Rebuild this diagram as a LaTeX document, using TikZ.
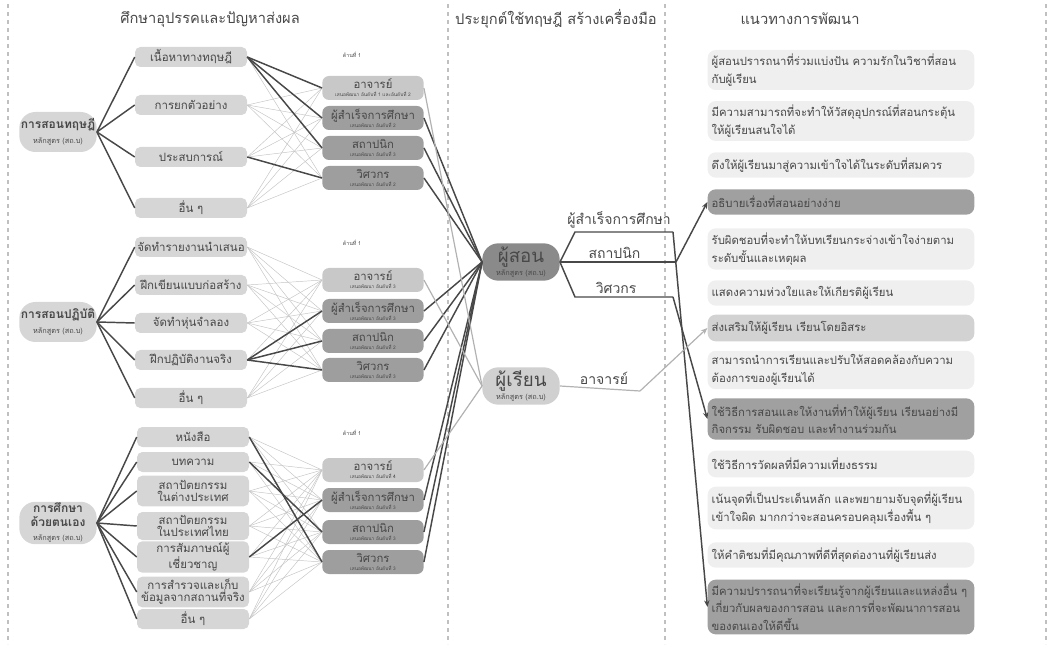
\documentclass[tikz,border=0pt]{standalone}
\usepackage{fontspec}
\setmainfont[Script=Thai]{Loma}
\usetikzlibrary{arrows.meta, positioning, calc}
\definecolor{DG}{RGB}{72,72,72}
\definecolor{LW}{RGB}{196,196,196}
\definecolor{LA}{RGB}{178,178,178}
\definecolor{PB}{RGB}{214,214,214}
\definecolor{RA}{RGB}{200,200,200}
\definecolor{RD}{RGB}{158,158,158}
\definecolor{TC}{RGB}{138,138,138}
\definecolor{TL}{RGB}{208,208,208}
\definecolor{BL}{RGB}{239,239,239}
\definecolor{BM}{RGB}{210,210,210}
\definecolor{BD}{RGB}{160,160,160}
\definecolor{SEP}{RGB}{192,192,192}
\newcommand{\rolelbl}[2]{{\fontsize{8.5}{6}\selectfont #1}\\{\fontsize{3.6}{4}\selectfont #2}}
\newcommand{\hubsub}{{\fontsize{5.5}{6}\selectfont หลักสูตร (สถ.บ)}}
\newcommand{\hubttl}[1]{{\fontsize{9}{9.5}\selectfont\bfseries #1}}

\begin{document}
\begin{tikzpicture}[
  x=0.75pt, y=-0.75pt,
  pill/.style={fill=#1, rounded corners=12pt, minimum width=58pt,
               minimum height=30pt, align=center, inner sep=1pt, text=DG},
  item/.style={fill=PB, rounded corners=4pt, minimum width=84pt,
               minimum height=15pt, align=center, inner sep=1pt,
               font=\fontsize{8.6}{9}\selectfont, text=DG},
  role/.style={fill=#1, rounded corners=5pt, minimum width=76pt,
               minimum height=18pt, align=center, inner sep=0pt, text=DG,
               font=\fontsize{8.5}{6}\selectfont},
  idea/.style={fill=#1, rounded corners=6pt, minimum width=200pt,
               text width=194pt, align=left, inner xsep=3pt, inner ysep=3pt,
               font=\fontsize{8.5}{13}\selectfont, text=DG},
  hd/.style={font=\fontsize{11}{12}\selectfont, text=DG},
  tag/.style={font=\fontsize{4}{4}\selectfont, text=DG},
  tree/.style={draw=DG, line width=1.1pt},
  web/.style={draw=LW, line width=0.35pt},
  sep/.style={draw=SEP, line width=1.1pt, dashed},
  arr/.style={-{Stealth[length=5pt,width=4pt]}, line width=1.1pt, draw=DG},
  lbl/.style={font=\fontsize{10.5}{11}\selectfont, text=DG, above=-1pt}
]
\useasboundingbox (0,0) rectangle (1049,648);

% separators and headers
\foreach \xs in {8,448,665,1046}
  \draw[sep] (\xs,4) -- (\xs,644);
\node[hd] (h1) at (210,19) {ศึกษาอุปรรคและปัญหาส่งผล};
\node[hd] (h2) at (556,19) {ประยุกต์ใช้ทฤษฎี สร้างเครื่องมือ};
\node[hd] (h3) at (800,19) {แนวทางการพัฒนา};

% group 1
\node[pill=PB] (t0) at (58,132) {\hubttl{การสอนทฤษฎี}\\[-1pt]\hubsub};
\node[item] (t1) at (191,57)  {เนื้อหาทางทฤษฎี};
\node[item] (t2) at (191,105) {การยกตัวอย่าง};
\node[item] (t3) at (191,157) {ประสบการณ์};
\node[item] (t4) at (191,208) {อื่น~ๆ};
\node[tag] (d1) at (352,55) {ด้านที่ 1};
\node[role=RA] (a1) at (373,88)  {\rolelbl{อาจารย์}{เสนอพัฒนา อันดับที่ 1 และอันดับที่ 2}};
\node[role=RD] (g1) at (373,118) {\rolelbl{ผู้สำเร็จการศึกษา}{เสนอพัฒนา อันดับที่ 2}};
\node[role=RD] (s1) at (373,148) {\rolelbl{สถาปนิก}{เสนอพัฒนา อันดับที่ 3}};
\node[role=RD] (e1) at (373,178) {\rolelbl{วิศวกร}{เสนอพัฒนา อันดับที่ 2}};

% group 2
\node[pill=PB] (p0) at (58,322) {\hubttl{การสอนปฏิบัติ}\\[-1pt]\hubsub};
\node[item] (p1) at (191,247) {จัดทำรายงานนำเสนอ};
\node[item] (p2) at (191,285) {ฝึกเขียนแบบก่อสร้าง};
\node[item] (p3) at (191,323) {จัดทำหุ่นจำลอง};
\node[item] (p4) at (191,360) {ฝึกปฏิบัติงานจริง};
\node[item] (p5) at (191,398) {อื่น~ๆ};
\node[tag] (d2) at (352,243) {ด้านที่ 1};
\node[role=RA] (a2) at (373,280) {\rolelbl{อาจารย์}{เสนอพัฒนา อันดับที่ 3}};
\node[role=RD] (g2) at (373,311) {\rolelbl{ผู้สำเร็จการศึกษา}{เสนอพัฒนา อันดับที่ 3}};
\node[role=RD] (s2) at (373,341) {\rolelbl{สถาปนิก}{เสนอพัฒนา อันดับที่ 2}};
\node[role=RD] (e2) at (373,370) {\rolelbl{วิศวกร}{เสนอพัฒนา อันดับที่ 3}};

% group 3
\node[pill=PB, minimum height=31pt] (m0) at (58,523)
  {\hubttl{การศึกษา}\\[-2pt]\hubttl{ด้วยตนเอง}\\[-1pt]\hubsub};
\node[item] (m1) at (193,437) {หนังสือ};
\node[item] (m2) at (193,462) {บทความ};
\node[item, minimum height=23pt] (m3) at (193,491) {สถาปัตยกรรม\\ในต่างประเทศ};
\node[item, minimum height=21pt] (m4) at (193,526) {สถาปัตยกรรม\\ในประเทศไทย};
\node[item, minimum height=21pt] (m5) at (193,557) {การสัมภาษณ์ผู้\\เชี่ยวชาญ};
\node[item, minimum height=23pt] (m6) at (193,592) {การสำรวจและเก็บ\\ข้อมูลจากสถานที่จริง};
\node[item] (m7) at (193,619) {อื่น~ๆ};
\node[tag] (d3) at (352,433) {ด้านที่ 1};
\node[role=RA] (a3) at (373,470) {\rolelbl{อาจารย์}{เสนอพัฒนา อันดับที่ 4}};
\node[role=RD] (g3) at (373,500) {\rolelbl{ผู้สำเร็จการศึกษา}{เสนอพัฒนา อันดับที่ 3}};
\node[role=RD] (s3) at (373,532) {\rolelbl{สถาปนิก}{เสนอพัฒนา อันดับที่ 3}};
\node[role=RD] (e3) at (373,562) {\rolelbl{วิศวกร}{เสนอพัฒนา อันดับที่ 3}};

% trees
\foreach \c in {t1,t2,t3,t4} \draw[tree] (t0.east) -- (\c.west);
\foreach \c in {p1,p2,p3,p4,p5} \draw[tree] (p0.east) -- (\c.west);
\foreach \c in {m1,m2,m3,m4,m5,m6,m7} \draw[tree] (m0.east) -- (\c.west);

% web of links
\foreach \c in {t1,t2,t3,t4}
  \foreach \r in {a1,g1,s1,e1} \draw[web] (\c.east) -- (\r.west);
\foreach \c in {p1,p2,p3,p4,p5}
  \foreach \r in {a2,g2,s2,e2} \draw[web] (\c.east) -- (\r.west);
\foreach \c in {m1,m2,m3,m4,m5,m6,m7}
  \foreach \r in {a3,g3,s3,e3} \draw[web] (\c.east) -- (\r.west);
\foreach \c/\r in {t1/a1,t1/g1,t1/s1,t3/e1,p4/g2,p4/s2,p4/e2,m5/g3,m2/s3,m1/e3}
  \draw[tree] (\c.east) -- (\r.west);

% hubs
\node[pill=TC, minimum height=28pt] (ps) at (521,262)
  {{\fontsize{14}{14}\selectfont ผู้สอน}\\[-2pt]\hubsub};
\node[pill=TL, minimum height=28pt] (pl) at (521,386)
  {{\fontsize{14}{14}\selectfont ผู้เรียน}\\[-2pt]\hubsub};
\foreach \r in {g1,s1,e1,g2,s2,e2,g3,s3,e3} \draw[tree] (\r.east) -- (ps.west);
\foreach \r in {a1,a2,a3} \draw[draw=LA, line width=0.9pt] (\r.east) -- (pl.west);

% guidelines
\node[idea=BL, minimum height=30pt] (r1) at (841,70)
  {ผู้สอนปรารถนาที่ร่วมแบ่งปัน ความรักในวิชาที่สอน\\กับผู้เรียน};
\node[idea=BL, minimum height=29pt] (r2) at (841,121)
  {มีความสามารถที่จะทำให้วัสดุอุปกรณ์ที่สอนกระตุ้น\\ให้ผู้เรียนสนใจได้};
\node[idea=BL, minimum height=19pt] (r3) at (841,165)
  {ดึงให้ผู้เรียนมาสู่ความเข้าใจได้ในระดับที่สมควร};
\node[idea=BD, minimum height=19pt] (r4) at (841,202)
  {อธิบายเรื่องที่สอนอย่างง่าย};
\node[idea=BL, minimum height=31pt] (r5) at (841,249)
  {รับผิดชอบที่จะทำให้บทเรียนกระจ่างเข้าใจง่ายตาม\\ระดับขั้นและเหตุผล};
\node[idea=BL, minimum height=19pt] (r6) at (841,293)
  {แสดงความห่วงใยและให้เกียรติผู้เรียน};
\node[idea=BM, minimum height=20pt] (r7) at (841,328)
  {ส่งเสริมให้ผู้เรียน เรียนโดยอิสระ};
\node[idea=BL, minimum height=27pt] (r8) at (841,370)
  {สามารถนำการเรียนและปรับให้สอดคล้องกับความ\\ต้องการของผู้เรียนได้};
\node[idea=BD, minimum height=31pt] (r9) at (841,419)
  {ใช้วิธีการสอนและให้งานที่ทำให้ผู้เรียน เรียนอย่างมี\\กิจกรรม รับผิดชอบ และทำงานร่วมกัน};
\node[idea=BL, minimum height=20pt] (r10) at (841,464)
  {ใช้วิธีการวัดผลที่มีความเที่ยงธรรม};
\node[idea=BL, minimum height=32pt] (r11) at (841,508)
  {เน้นจุดที่เป็นประเด็นหลัก และพยายามจับจุดที่ผู้เรียน\\เข้าใจผิด มากกว่าจะสอนครอบคลุมเรื่องพื้น~ๆ};
\node[idea=BL, minimum height=19pt] (r12) at (841,555)
  {ให้คำติชมที่มีคุณภาพที่ดีที่สุดต่องานที่ผู้เรียนส่ง};
\node[idea=BD, minimum height=41pt] (r13) at (841,607)
  {มีความปรารถนาที่จะเรียนรู้จากผู้เรียนและแหล่งอื่น~ๆ\\เกี่ยวกับผลของการสอน และการที่จะพัฒนาการสอน\\ของตนเองให้ดีขึ้น};

% branches to guidelines
\coordinate (gk1) at (575,232);
\coordinate (gk2) at (673,232);
\coordinate (sk)  at (676,262);
\coordinate (ek1) at (575,297);
\coordinate (ek2) at (673,297);
\coordinate (ak)  at (640,391);
\draw[tree] (ps.east) -- (gk1) -- node[lbl, pos=0.45]{ผู้สำเร็จการศึกษา} (gk2);
\draw[tree] (ps.east) -- node[lbl, pos=0.47]{สถาปนิก} (sk);
\draw[tree] (ps.east) -- (ek1) -- node[lbl, pos=0.42]{วิศวกร} (ek2);
\draw[draw=LA, line width=0.9pt] (pl.east) -- node[lbl, pos=0.55]{อาจารย์} (ak);
\draw[arr] (gk2) -- (r13.west);
\draw[arr] (sk) -- (r4.west);
\draw[arr] (ek2) -- (r9.west);
\draw[arr, draw=LA, line width=0.9pt] (ak) -- (r7.west);
\end{tikzpicture}
\end{document}
